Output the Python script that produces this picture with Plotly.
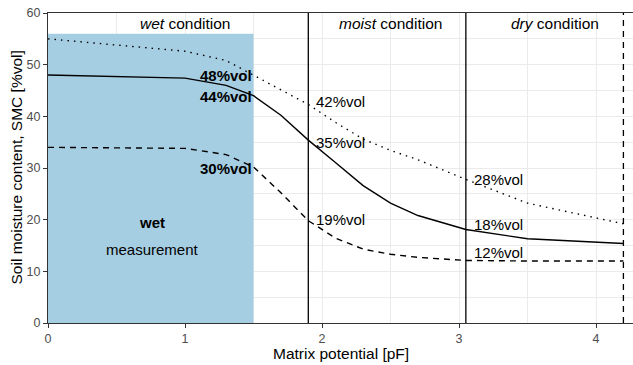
import plotly.graph_objects as go

# ---- data ----
pf = [0, 1.0, 1.3, 1.5, 1.7, 1.9, 2.1, 2.3, 2.5, 2.7, 3.05, 3.5, 4.2]
smc_solid = [48.0, 47.4, 46.0, 44.0, 40.2, 35.4, 31.0, 26.6, 23.2, 20.8, 18.1, 16.3, 15.4]
smc_dotted = [55.0, 52.6, 50.8, 48.0, 45.2, 42.3, 38.8, 35.6, 33.4, 31.6, 27.8, 23.2, 19.2]
smc_dashed = [34.0, 33.8, 32.6, 30.2, 25.2, 19.8, 16.4, 14.3, 13.3, 12.7, 12.1, 12.0, 12.0]

wet_zone_x = [0, 1.5]
wet_zone_top = 56
moist_limits = [1.9, 3.05]
dry_limit = 4.2

left_labels = ["48%vol", "44%vol", "30%vol"]
left_label_y = [47.9, 43.9, 29.9]
mid_labels = ["42%vol", "35%vol", "19%vol"]
mid_label_y = [42.9, 34.9, 20.0]
right_labels = ["28%vol", "18%vol", "12%vol"]
right_label_y = [27.8, 19.0, 13.6]

conditions = ["<i>wet</i> condition", "<i>moist</i> condition", "<i>dry</i> condition"]
condition_x = [1.0, 2.5, 3.7]
condition_y = 58

x_ticks = [0, 1, 2, 3, 4]
y_ticks = [0, 10, 20, 30, 40, 50, 60]

FONT = "Liberation Sans, Arial, sans-serif"

fig = go.Figure()

# wet measurement zone
fig.add_shape(type="rect", x0=wet_zone_x[0], x1=wet_zone_x[1], y0=0, y1=wet_zone_top,
              xref="x", yref="y", fillcolor="#A6CEE3", line=dict(width=0), layer="between")

# vertical condition limits
for xv in moist_limits:
    fig.add_shape(type="line", x0=xv, x1=xv, y0=0, y1=60, xref="x", yref="y",
                  line=dict(color="black", width=1.3), layer="above")
fig.add_shape(type="line", x0=dry_limit, x1=dry_limit, y0=0, y1=60, xref="x", yref="y",
              line=dict(color="black", width=1.3, dash="6px,5px"), layer="above")

fig.add_trace(go.Scatter(x=pf, y=smc_dotted, mode="lines",
                         line=dict(color="black", width=1.4, dash="1.5px,5px"), showlegend=False))
fig.add_trace(go.Scatter(x=pf, y=smc_solid, mode="lines",
                         line=dict(color="black", width=1.4), showlegend=False))
fig.add_trace(go.Scatter(x=pf, y=smc_dashed, mode="lines",
                         line=dict(color="black", width=1.4, dash="6px,5px"), showlegend=False))

ann = []
for t, y in zip(left_labels, left_label_y):
    ann.append(dict(x=1.5, y=y, text="<b>" + t + "</b>", xanchor="right", yanchor="middle",
                    font=dict(size=15, color="black", family=FONT)))
for t, y in zip(mid_labels, mid_label_y):
    ann.append(dict(x=moist_limits[0] + 0.045, y=y, text=t, xanchor="left", yanchor="middle",
                    font=dict(size=15, color="black", family=FONT)))
for t, y in zip(right_labels, right_label_y):
    ann.append(dict(x=moist_limits[1] + 0.045, y=y, text=t, xanchor="left", yanchor="middle",
                    font=dict(size=15, color="black", family=FONT)))
for t, x in zip(conditions, condition_x):
    ann.append(dict(x=x, y=condition_y, text=t, xanchor="center", yanchor="middle",
                    font=dict(size=15.5, color="black", family=FONT)))
ann.append(dict(x=0.76, y=19.5, text="<b>wet</b>", xanchor="center", yanchor="middle",
                font=dict(size=15, color="black", family=FONT)))
ann.append(dict(x=0.76, y=14.3, text="measurement", xanchor="center", yanchor="middle",
                font=dict(size=15, color="black", family=FONT)))
for a in ann:
    a.update(xref="x", yref="y", showarrow=False)

# axis titles
ann.append(dict(x=0.5, y=0, xref="paper", yref="paper", yanchor="middle", xanchor="center",
                yshift=-30, showarrow=False, text="Matrix potential [pF]",
                font=dict(size=15.5, color="black", family=FONT)))
ann.append(dict(x=0, y=0.5, xref="paper", yref="paper", yanchor="middle", xanchor="center",
                xshift=-32.5, textangle=-90, showarrow=False, text="Soil moisture content, SMC [%vol]",
                font=dict(size=15.5, color="black", family=FONT)))

axis_common = dict(ticks="outside", ticklen=4, tickcolor="#333333",
                   tickfont=dict(size=12.5, color="#4D4D4D", family=FONT),
                   showgrid=True, gridcolor="#EBEBEB", gridwidth=1,
                   showline=True, linecolor="#333333", linewidth=1, mirror=True,
                   zeroline=False, automargin=False)

fig.update_layout(
    width=633, height=365,
    margin=dict(l=48, r=0, t=13, b=42),
    plot_bgcolor="white", paper_bgcolor="white",
    font=dict(family=FONT, color="black"),
    annotations=ann,
    xaxis=dict(range=[0, 4.27], tickvals=x_ticks,
               minor=dict(tickvals=[0.5, 1.5, 2.5, 3.5], showgrid=True, gridcolor="#EBEBEB", gridwidth=0.6),
               **axis_common),
    yaxis=dict(range=[0, 60], tickvals=y_ticks,
               minor=dict(tickvals=[5, 15, 25, 35, 45, 55], showgrid=True, gridcolor="#EBEBEB", gridwidth=0.6),
               **axis_common),
)

fig.write_html("out.html", config={"displayModeBar": False},
               post_script="document.body.style.margin='0';document.body.style.overflow='hidden';")
